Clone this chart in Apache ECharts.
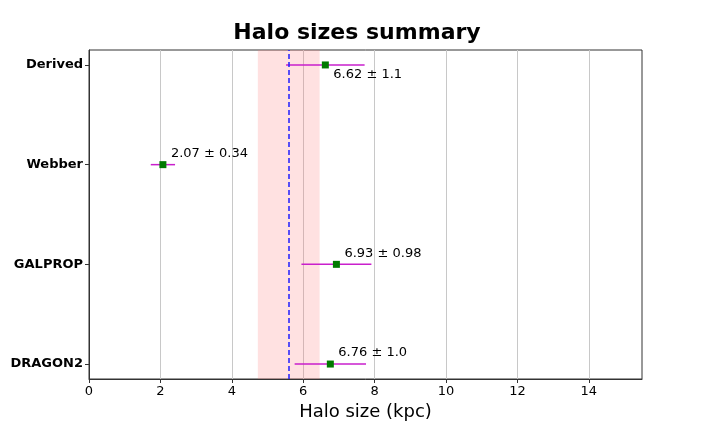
<!DOCTYPE html>
<html>
<head>
<meta charset="utf-8">
<script src="https://cdn.jsdelivr.net/npm/echarts@6/dist/echarts.min.js"></script>
<style>
  html, body { margin: 0; padding: 0; background: #fff; }
  #box { width: 714px; height: 426px; }
</style>
</head>
<body>
<div id="box"></div>
<script>
// 数据：自下而上
const aModels = ['DRAGON2', 'GALPROP', 'Webber', 'Derived'];
const aMean = [6.76, 6.93, 2.07, 6.62];
const aErr = [1.0, 0.98, 0.34, 1.1];
const aLabelText = ['6.76 ± 1.0', '6.93 ± 0.98', '2.07 ± 0.34', '6.62 ± 1.1'];
const aXTicks = [0, 2, 4, 6, 8, 10, 12, 14];
const aYTicks = [0, 1, 2, 3];
const fAvg = 5.59;           // 蓝色虚线
const aBand = [4.73, 6.46];  // 红色区间

const sFont = 'DejaVu Sans';

const aErrData = aMean.map((cur, idx) => [cur - aErr[idx], cur + aErr[idx], idx]);
const aPointData = aMean.map((cur, idx) => {
    const bBelow = aModels[idx] === 'Derived'; // 只有这个标签在下面
    return {
        value: [cur, idx],
        label: {
            show: true,
            formatter: aLabelText[idx],
            position: 'inside',
            align: 'left',
            verticalAlign: 'middle',
            color: '#000',
            fontSize: 13,
            fontFamily: sFont,
            offset: bBelow ? [8, 10] : [8, -11],
        },
    };
});

const myChart = echarts.init(document.getElementById('box'));
const option = {
    animation: false,
    textStyle: { fontFamily: sFont },
    title: {
        text: 'Halo sizes summary',
        left: 'center',
        top: 17,
        textStyle: { fontSize: 22, fontWeight: 'bold', color: '#000', fontFamily: sFont },
    },
    grid: {
        left: 89, right: 72, top: 50, bottom: 47,
        outerBoundsMode: 'none',
        containLabel: false,
        show: true, borderColor: '#333', borderWidth: 1,
    },
    xAxis: {
        type: 'value',
        min: 0, max: 15.49,
        interval: 2,
        name: 'Halo size (kpc)',
        nameLocation: 'middle',
        nameGap: 22,
        nameTextStyle: { fontSize: 18, color: '#000', fontFamily: sFont },
        axisLine: { show: true, onZero: false, lineStyle: { color: '#333' } },
        axisTick: { show: true, customValues: aXTicks, length: 4, lineStyle: { color: '#333' } },
        axisLabel: { customValues: aXTicks, fontSize: 13, color: '#000', margin: 6, fontFamily: sFont },
        splitLine: { show: true, lineStyle: { color: '#c8c8c8', width: 1 } },
    },
    yAxis: {
        type: 'value',
        min: -0.15, max: 3.15,
        axisLine: { show: true, onZero: false, lineStyle: { color: '#333' } },
        axisTick: { show: true, customValues: aYTicks, length: 4, lineStyle: { color: '#333' } },
        axisLabel: {
            customValues: aYTicks,
            formatter: v => aModels[Math.round(v)],
            fontSize: 13, fontWeight: 'bold', color: '#000', margin: 6, fontFamily: sFont,
        },
        splitLine: { show: false },
    },
    series: [{
        type: 'custom',
        name: 'err',
        z: 3,
        data: aErrData,
        renderItem(params, api){
            const p1 = api.coord([api.value(0), api.value(2)]);
            const p2 = api.coord([api.value(1), api.value(2)]);
            return {
                type: 'line',
                shape: { x1: p1[0], y1: p1[1], x2: p2[0], y2: p2[1] },
                style: { stroke: '#c91fcc', lineWidth: 1.5 },
            };
        },
        markArea: {
            silent: true,
            itemStyle: { color: 'rgba(255, 120, 120, 0.22)' },
            data: [[{ xAxis: aBand[0] }, { xAxis: aBand[1] }]],
        },
        markLine: {
            silent: true,
            symbol: 'none',
            label: { show: false },
            lineStyle: { color: '#1f1fff', type: [5, 3], width: 1.5 },
            data: [{ xAxis: fAvg }],
        },
    }, {
        type: 'scatter',
        name: 'mean',
        z: 4,
        symbol: 'rect',
        symbolSize: 7,
        itemStyle: { color: '#007a00', opacity: 1 },
        data: aPointData,
    }],
};
myChart.setOption(option);
</script>
</body>
</html>
